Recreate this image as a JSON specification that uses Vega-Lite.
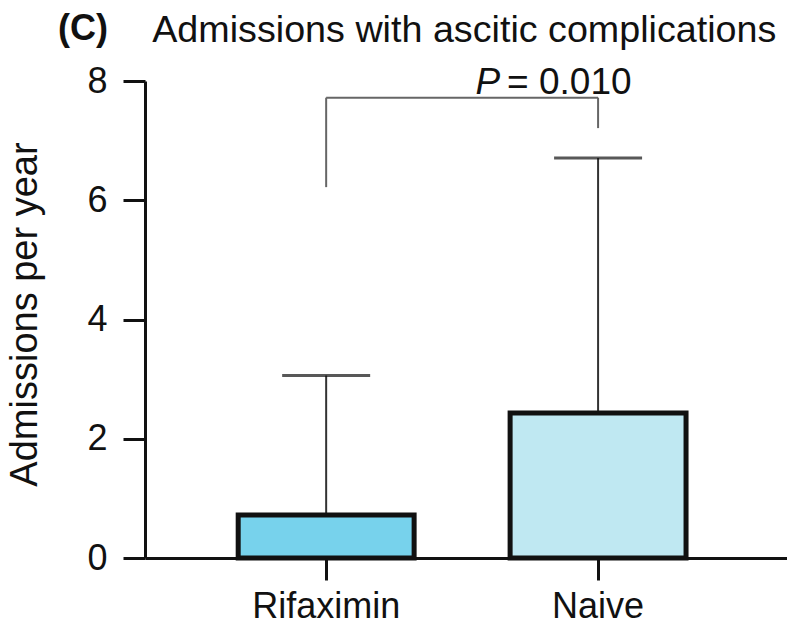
{
  "$schema": "https://vega.github.io/schema/vega-lite/v6.json",
  "width": 642,
  "height": 477,
  "autosize": {"type": "none"},
  "padding": {"left": 145, "top": 81, "right": 0, "bottom": 70},
  "background": "white",
  "title": {
    "text": "(C)",
    "subtitle": "\u200b\u00a0\u00a0\u00a0\u00a0\u00a0\u00a0\u00a0\u00a0\u00a0Admissions with ascitic complications",
    "anchor": "start",
    "frame": "group",
    "dx": -87,
    "offset": 12,
    "font": "Liberation Sans",
    "fontSize": 36,
    "fontWeight": "bold",
    "color": "#111111",
    "subtitleFont": "Liberation Sans",
    "subtitleFontSize": 37.7,
    "subtitleFontWeight": "normal",
    "subtitleColor": "#111111",
    "subtitlePadding": -36
  },
  "datasets": {
    "bars": [
      {"group": "Rifaximin", "mean": 0.72, "upper": 3.06},
      {"group": "Naive", "mean": 2.43, "upper": 6.71}
    ],
    "legs": [
      {"group": "Rifaximin", "from": 6.22, "to": 7.72},
      {"group": "Naive", "from": 7.21, "to": 7.72}
    ],
    "span": [
      {"start": "Rifaximin", "end": "Naive", "level": 7.72}
    ],
    "ptext": [
      {"group": "Naive", "level": 7.78, "p": "P", "rest": "= 0.010"}
    ]
  },
  "encoding": {
    "x": {
      "field": "group",
      "type": "nominal",
      "sort": ["Rifaximin", "Naive"],
      "scale": {"domain": ["Rifaximin", "Naive"], "paddingInner": 0.353, "paddingOuter": 0.357, "align": 0.48},
      "axis": {
        "title": null,
        "labelAngle": 0,
        "labelFont": "Liberation Sans",
        "labelFontSize": 36,
        "labelColor": "#111111",
        "labelPadding": 9,
        "domainColor": "#111111",
        "domainWidth": 3,
        "tickColor": "#111111",
        "tickWidth": 3,
        "tickSize": 22
      }
    }
  },
  "layer": [
    {
      "data": {"name": "bars"},
      "mark": {"type": "rule", "color": "#333333", "strokeWidth": 2},
      "encoding": {
        "y": {"field": "mean", "type": "quantitative"},
        "y2": {"field": "upper"}
      }
    },
    {
      "data": {"name": "bars"},
      "mark": {"type": "tick", "color": "#111111", "thickness": 3, "size": 88},
      "encoding": {
        "y": {"field": "upper", "type": "quantitative"}
      }
    },
    {
      "data": {"name": "bars"},
      "mark": {"type": "bar", "stroke": "#111111", "strokeWidth": 5},
      "encoding": {
        "y": {
          "field": "mean",
          "type": "quantitative",
          "scale": {"domain": [0, 8], "nice": false},
          "axis": {
            "title": "Admissions per year",
            "values": [0, 2, 4, 6, 8],
            "format": "d",
            "grid": false,
            "labelFont": "Liberation Sans",
            "labelFontSize": 36,
            "labelColor": "#111111",
            "labelPadding": 16,
            "domainColor": "#111111",
            "domainWidth": 3,
            "tickColor": "#111111",
            "tickWidth": 3,
            "tickSize": 22,
            "titleFont": "Liberation Sans",
            "titleFontSize": 38,
            "titleFontWeight": "normal",
            "titleColor": "#111111",
            "titleAngle": -90,
            "titleX": -120,
            "titleY": 233,
            "titleAlign": "center",
            "titleBaseline": "middle"
          }
        },
        "color": {
          "field": "group",
          "type": "nominal",
          "scale": {"domain": ["Rifaximin", "Naive"], "range": ["#77D2EC", "#BFE8F2"]},
          "legend": null
        }
      }
    },
    {
      "data": {"name": "legs"},
      "mark": {"type": "rule", "color": "#666666", "strokeWidth": 2},
      "encoding": {
        "y": {"field": "from", "type": "quantitative"},
        "y2": {"field": "to"}
      }
    },
    {
      "data": {"name": "span"},
      "mark": {"type": "rule", "color": "#666666", "strokeWidth": 2},
      "encoding": {
        "x": {"field": "start", "type": "nominal"},
        "x2": {"field": "end"},
        "y": {"field": "level", "type": "quantitative"}
      }
    },
    {
      "data": {"name": "ptext"},
      "mark": {"type": "text", "font": "Liberation Sans", "fontSize": 37, "fontStyle": "italic", "align": "right", "baseline": "alphabetic", "dx": -98, "color": "#111111"},
      "encoding": {
        "y": {"field": "level", "type": "quantitative"},
        "text": {"field": "p"}
      }
    },
    {
      "data": {"name": "ptext"},
      "mark": {"type": "text", "font": "Liberation Sans", "fontSize": 37, "align": "left", "baseline": "alphabetic", "dx": -91, "color": "#111111"},
      "encoding": {
        "y": {"field": "level", "type": "quantitative"},
        "text": {"field": "rest"}
      }
    }
  ],
  "resolve": {"scale": {"x": "shared", "y": "shared"}},
  "config": {"view": {"stroke": null}}
}
